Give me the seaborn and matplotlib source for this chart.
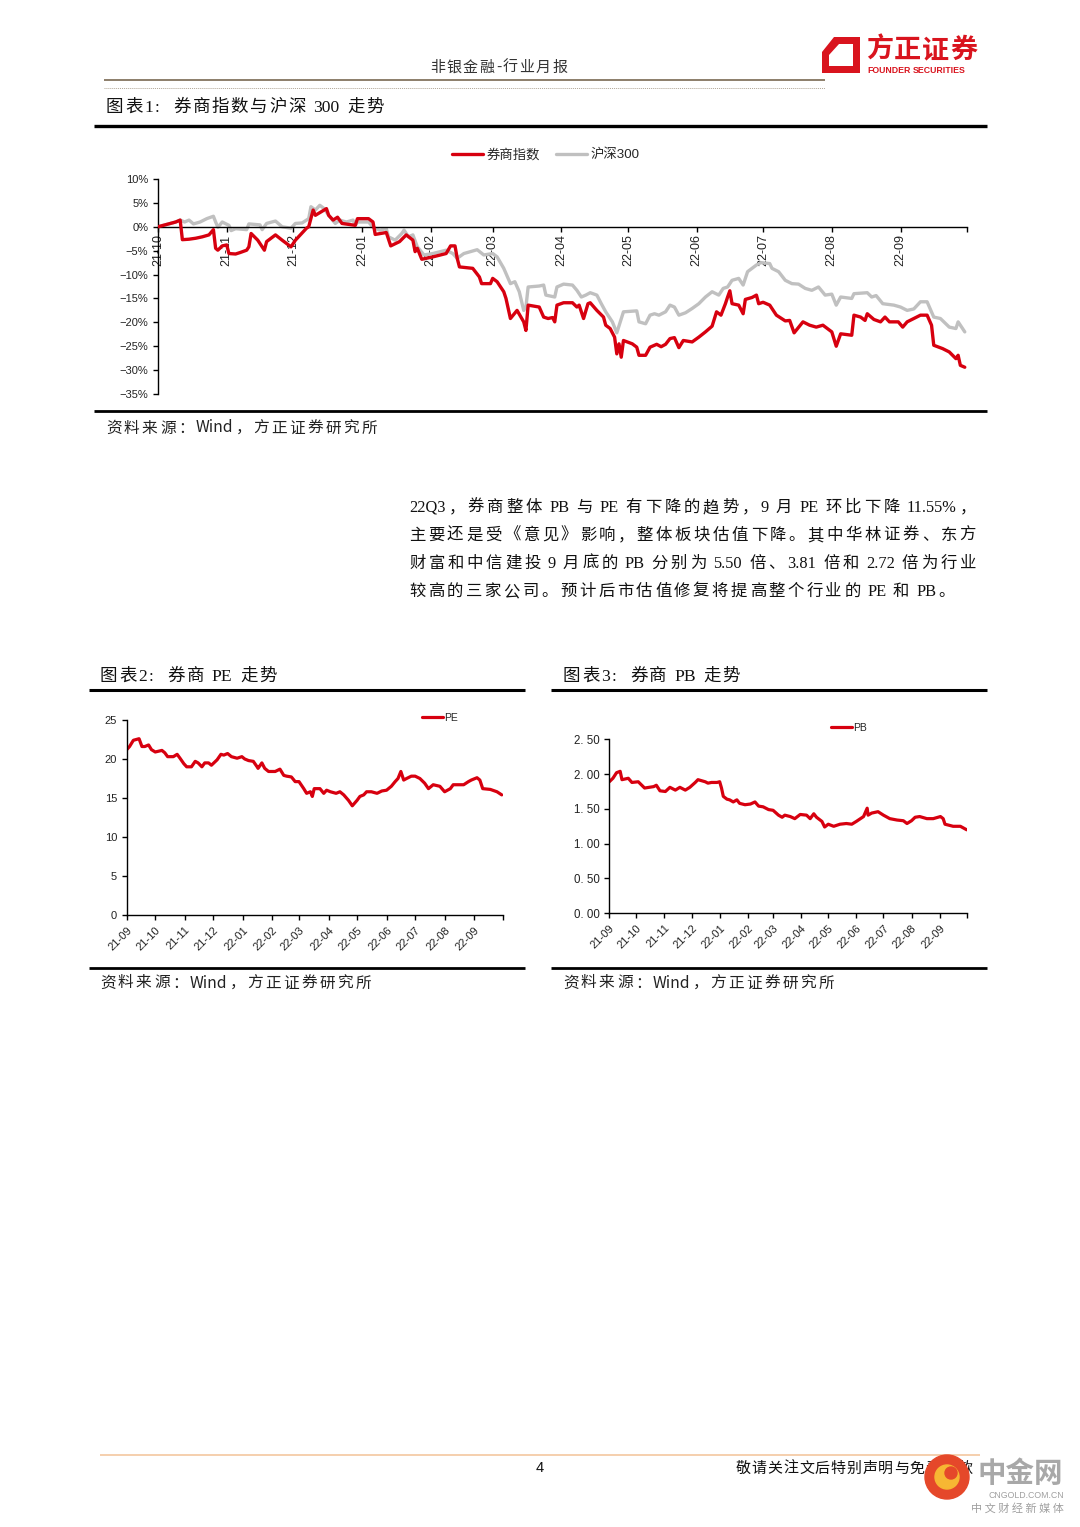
import re
import matplotlib
matplotlib.use("Agg")
import matplotlib.pyplot as plt
from matplotlib.patches import Polygon, Circle
from matplotlib.ticker import FuncFormatter
import numpy as np
import pandas as pd
import seaborn as sns

# ---------------- data ----------------
# Chart 1: days since 2021-10-01, cumulative change (%)
broker_day = [0, 4, 8, 10, 11, 14, 17, 20, 23, 25, 26, 27, 29, 31, 32, 35, 37, 40, 41, 42, 45, 48, 49, 53, 56, 60,
              62, 67, 68, 70, 71, 76, 77, 79, 81, 83, 89, 90, 95, 97, 98, 103, 105, 109, 112, 115, 116, 117, 119, 124,
              130, 132, 134, 135, 136, 142, 145, 146, 150, 151, 153, 156, 157, 159, 162, 165, 166, 167, 172, 174, 176,
              178, 179, 180, 183, 187, 189, 190, 192, 194, 195, 198, 201, 202, 204, 206, 207, 208, 209, 210, 214, 216,
              217, 220, 222, 225, 227, 229, 231, 233, 235, 237, 241, 244, 247, 250, 252, 254, 256, 257, 258, 259, 262,
              264, 265, 268, 270, 271, 273, 276, 279, 283, 285, 287, 291, 294, 297, 300, 304, 306, 308, 313, 314, 317,
              319, 320, 323, 326, 328, 330, 334, 336, 338, 341, 344, 347, 349, 350, 354, 357, 360, 361, 362, 364]
broker_val = [0.0, 0.5, 1.0, 1.4, -2.7, -2.6, -2.4, -2.1, -1.7, -0.6, -4.5, -4.9, -4.0, -3.8, -5.6, -5.7, -5.4, -4.9,
              -4.2, -1.4, -2.8, -4.9, -3.1, -1.7, -2.8, -4.2, -2.8, -0.3, 0.0, 3.5, 2.4, 3.8, 2.4, 1.4, 2.0, 0.7, 0.3,
              1.7, 1.7, 1.0, -1.6, -1.2, -4.0, -3.1, -1.7, -2.8, -5.2, -4.5, -6.8, -6.3, -5.6, -4.0, -4.0, -6.6, -8.4,
              -8.7, -10.5, -11.9, -11.9, -10.8, -11.5, -13.6, -15.0, -19.2, -17.5, -19.9, -21.7, -16.4, -16.8, -18.9,
              -19.2, -19.0, -19.9, -16.4, -15.9, -15.9, -16.8, -16.4, -19.2, -16.1, -15.9, -17.5, -18.9, -20.6, -21.3,
              -23.1, -26.6, -24.5, -27.3, -23.8, -24.5, -25.2, -26.9, -26.9, -25.2, -24.6, -25.1, -24.6, -23.4, -23.2,
              -25.3, -23.8, -24.1, -23.1, -22.0, -20.8, -17.8, -18.5, -16.1, -14.7, -13.4, -16.1, -16.4, -18.2, -15.2,
              -14.8, -14.3, -16.1, -15.8, -16.4, -18.5, -19.7, -19.6, -22.2, -19.9, -20.6, -21.0, -20.6, -22.0, -25.0,
              -22.4, -22.7, -18.5, -18.9, -19.6, -18.2, -19.4, -19.9, -18.9, -19.9, -19.9, -21.0, -19.9, -19.2, -18.5,
              -18.5, -20.6, -24.8, -25.5, -26.2, -27.6, -26.9, -29.0, -29.4]

hs300_day = [0, 8, 10, 12, 14, 16, 19, 22, 25, 26, 27, 29, 32, 33, 35, 40, 41, 46, 47, 49, 53, 56, 60, 62, 65, 68, 69,
             71, 73, 75, 77, 80, 82, 85, 88, 89, 90, 95, 97, 100, 103, 104, 107, 110, 111, 113, 115, 117, 120, 124,
             130, 133, 135, 138, 144, 147, 151, 153, 156, 159, 161, 163, 165, 166, 167, 172, 174, 175, 179, 180, 183,
             187, 189, 191, 193, 195, 198, 200, 202, 205, 207, 210, 216, 217, 220, 222, 224, 226, 229, 231, 233, 235,
             238, 241, 244, 247, 250, 253, 255, 257, 259, 262, 264, 266, 270, 272, 276, 277, 280, 283, 286, 289, 292,
             295, 298, 301, 304, 306, 308, 313, 314, 320, 322, 324, 327, 332, 335, 338, 341, 344, 347, 350, 353, 357,
             360, 361, 363, 364]
hs300_val = [0.0, 1.0, 1.4, 1.0, 1.4, 0.6, 1.0, 1.7, 2.2, 1.0, -0.1, 1.0, 0.3, -0.8, -0.4, -0.6, 0.6, 0.4, -0.6, 0.7,
             1.2, 0.0, -0.3, 0.7, 0.8, 1.7, 4.2, 3.5, 4.5, 3.8, 2.4, 0.7, 1.4, 1.0, 1.4, 0.3, 1.0, 1.0, -0.1, -0.7,
             -0.4, -2.1, -2.8, -1.4, -0.7, -2.1, -1.7, -4.2, -5.9, -5.6, -4.9, -5.6, -6.6, -5.6, -4.8, -5.9, -5.6,
             -6.3, -8.7, -11.9, -11.5, -13.6, -17.5, -16.8, -12.6, -12.4, -12.2, -14.3, -14.7, -12.6, -12.0, -12.2,
             -13.3, -14.7, -14.3, -13.8, -14.3, -16.1, -17.8, -19.9, -22.2, -17.8, -17.6, -19.9, -20.3, -18.5, -18.2,
             -18.5, -17.8, -16.4, -16.8, -18.5, -18.0, -17.1, -16.1, -14.7, -13.6, -14.3, -12.9, -12.6, -11.2, -10.8,
             -12.2, -9.4, -8.0, -7.5, -7.7, -8.7, -9.4, -11.2, -11.9, -12.0, -12.9, -13.3, -12.6, -14.3, -14.1, -16.4,
             -14.7, -15.0, -14.0, -13.8, -14.7, -14.4, -16.1, -16.4, -16.8, -17.5, -17.2, -15.7, -15.7, -18.9, -19.2,
             -21.0, -21.3, -19.9, -21.3, -22.0]

# Chart 2: days since 2021-09-01, PE
pe_day = [0, 3, 7, 10, 13, 16, 19, 23, 26, 30, 37, 40, 43, 49, 53, 56, 60, 63, 68, 72, 75, 79, 82, 86, 89, 95, 99, 102,
          106, 110, 116, 121, 124, 128, 133, 137, 138, 142, 145, 149, 156, 161, 165, 168, 173, 177, 181, 186, 189, 193,
          195, 197, 203, 207, 210, 214, 220, 224, 228, 233, 237, 242, 245, 249, 252, 257, 263, 268, 273, 278, 282,
          285, 288, 291, 294, 299, 303, 308, 313, 317, 322, 329, 334, 340, 343, 354, 359, 362, 368, 371, 374, 382,
          389, 394]
pe_val = [21.2, 21.6, 22.4, 22.5, 22.6, 21.6, 21.6, 21.8, 21.2, 20.9, 21.1, 20.8, 20.3, 20.3, 20.6, 20.1, 19.4, 19.0,
          19.0, 19.7, 19.5, 19.0, 19.5, 19.5, 19.2, 19.9, 20.6, 20.5, 20.7, 20.3, 20.1, 20.3, 20.0, 19.8, 19.7, 19.0,
          18.8, 19.5, 18.8, 18.4, 18.4, 18.7, 17.9, 17.8, 17.7, 17.1, 17.1, 16.2, 15.6, 15.8, 15.2, 16.2, 16.2, 15.6,
          16.0, 15.8, 15.6, 15.8, 15.4, 14.7, 14.0, 14.7, 15.2, 15.4, 15.8, 15.8, 15.6, 15.9, 16.0, 16.5, 17.1, 17.5,
          18.4, 17.3, 17.5, 17.8, 17.8, 17.5, 16.9, 16.2, 16.7, 16.5, 15.8, 16.2, 16.7, 16.7, 17.1, 17.3, 17.6, 17.3,
          16.2, 16.1, 15.8, 15.4]

# Chart 3: days since 2021-09-01, PB
pb_day = [0, 4, 8, 12, 14, 21, 25, 32, 39, 49, 52, 56, 62, 67, 73, 78, 84, 89, 95, 98, 106, 109, 113, 119, 122, 124,
          126, 130, 133, 137, 141, 144, 150, 156, 161, 165, 170, 176, 181, 187, 191, 194, 200, 205, 211, 218, 222, 226,
          229, 235, 238, 242, 248, 255, 262, 268, 273, 281, 285, 286, 290, 297, 303, 310, 318, 325, 329, 334, 338,
          343, 351, 358, 366, 369, 371, 380, 388, 395]
pb_val = [1.89, 1.94, 2.02, 2.04, 1.92, 1.94, 1.88, 1.89, 1.80, 1.82, 1.84, 1.76, 1.75, 1.81, 1.77, 1.81, 1.77, 1.81,
          1.88, 1.92, 1.89, 1.87, 1.88, 1.88, 1.89, 1.80, 1.68, 1.64, 1.63, 1.60, 1.63, 1.58, 1.56, 1.57, 1.60, 1.54,
          1.53, 1.49, 1.48, 1.41, 1.38, 1.41, 1.39, 1.36, 1.42, 1.41, 1.36, 1.43, 1.38, 1.32, 1.24, 1.28, 1.25, 1.28,
          1.29, 1.28, 1.32, 1.39, 1.51, 1.41, 1.44, 1.46, 1.41, 1.36, 1.34, 1.33, 1.29, 1.33, 1.38, 1.39, 1.36, 1.36,
          1.39, 1.36, 1.28, 1.25, 1.25, 1.20]

c1_yticks = [10, 5, 0, -5, -10, -15, -20, -25, -30, -35]
pe_yticks = [0, 5, 10, 15, 20, 25]
pb_yticks = [0.0, 0.5, 1.0, 1.5, 2.0, 2.5]
pb_ylabels = ["0. 00", "0. 50", "1. 00", "1. 50", "2. 00", "2. 50"]

# ---------------- style ----------------
sns.set_theme(style="white")
plt.rcParams["font.family"] = ["Liberation Sans", "Noto Sans CJK SC", "DejaVu Sans"]
plt.rcParams["axes.unicode_minus"] = True

RED = "#D7000F"
GRAY = "#C0C0C0"
W, H = 1080, 1527
CJK = ["Noto Sans CJK SC", "DejaVu Sans"]
SERIF = ["Liberation Serif", "Noto Sans CJK SC", "DejaVu Sans"]
SANS = ["Liberation Sans", "Noto Sans CJK SC", "DejaVu Sans"]

fig = plt.figure(figsize=(W / 100, H / 100), dpi=100)
fig.patch.set_facecolor("white")

bg = fig.add_axes([0, 0, 1, 1])
bg.set_xlim(0, W)
bg.set_ylim(H, 0)
bg.axis("off")


def rect(l, t, r, b):
    return [l / W, 1 - b / H, (r - l) / W, (b - t) / H]


def style_axes(ax):
    ax.set_facecolor("none")
    for s in ["top", "right"]:
        ax.spines[s].set_visible(False)
    for s in ["left", "bottom"]:
        ax.spines[s].set_color("black")
        ax.spines[s].set_linewidth(1.0)
    ax.tick_params(axis="both", which="both", direction="out", length=3.5, width=1.0,
                   color="black", labelcolor="#222222", left=True, bottom=True)
    ax.grid(False)
    ax.set_xlabel("")
    ax.set_ylabel("")


# ---------------- chart 1 ----------------
start1 = pd.Timestamp("2021-10-01")
ax1 = fig.add_axes(rect(158, 179, 967, 394))
b_dates = start1 + pd.to_timedelta(broker_day, unit="D")
h_dates = start1 + pd.to_timedelta(hs300_day, unit="D")
sns.lineplot(x=b_dates, y=broker_val, ax=ax1, color=RED, linewidth=2.4, label="券商指数", zorder=3)
sns.lineplot(x=h_dates, y=hs300_val, ax=ax1, color=GRAY, linewidth=2.4, label="沪深300", zorder=2)
style_axes(ax1)
ax1.set_ylim(-35, 10)
ax1.set_xlim(start1, pd.Timestamp("2022-10-01"))
ax1.spines["bottom"].set_position(("data", 0))
ax1.set_yticks(c1_yticks)
ax1.yaxis.set_major_formatter(FuncFormatter(lambda v, p: f"{v:.0f}%".replace("-", "\u2212")))
months1 = pd.date_range("2021-10-01", "2022-10-01", freq="MS")
ax1.set_xticks(months1)
ax1.set_xticklabels([m.strftime("%y-%m") if i < len(months1) - 1 else "" for i, m in enumerate(months1)],
                    rotation=90, fontsize=9, family=SANS)
for lab in ax1.get_yticklabels():
    lab.set_fontsize(8)
ax1.tick_params(axis="x", pad=2)
h, l = ax1.get_legend_handles_labels()
ax1.legend_.remove()
fig.legend(h, l, loc="center", bbox_to_anchor=(546 / W, 1 - 155 / H), ncol=2, frameon=False,
           handlelength=2.3, handletextpad=0.3, columnspacing=1.2, prop={"family": SANS, "size": 9.6})

# ---------------- chart 2 ----------------
start2 = pd.Timestamp("2021-09-01")
ax2 = fig.add_axes(rect(126.7, 720, 502.7, 915))
sns.lineplot(x=start2 + pd.to_timedelta(pe_day, unit="D"), y=pe_val, ax=ax2, color=RED, linewidth=2.3, label="PE")
style_axes(ax2)
ax2.set_ylim(0, 25)
ax2.set_yticks(pe_yticks)
ax2.set_xlim(start2, pd.Timestamp("2022-10-01"))
months2 = pd.date_range("2021-09-01", "2022-10-01", freq="MS")
ax2.set_xticks(months2)
ax2.set_xticklabels([m.strftime("%y-%m") if i < len(months2) - 1 else "" for i, m in enumerate(months2)],
                    rotation=45, ha="right", rotation_mode="anchor", fontsize=8, family=SANS)
for lab in ax2.get_yticklabels():
    lab.set_fontsize(8)
h, l = ax2.get_legend_handles_labels()
ax2.legend_.remove()
fig.legend(h, l, loc="center", bbox_to_anchor=(440 / W, 1 - 718 / H), frameon=False,
           handlelength=2.0, handletextpad=0.1, prop={"family": SANS, "size": 7.5})

# ---------------- chart 3 ----------------
ax3 = fig.add_axes(rect(609.3, 739.3, 966.7, 913.3))
sns.lineplot(x=start2 + pd.to_timedelta(pb_day, unit="D"), y=pb_val, ax=ax3, color=RED, linewidth=2.3, label="PB")
style_axes(ax3)
ax3.set_ylim(0, 2.5)
ax3.set_yticks(pb_yticks)
ax3.set_yticklabels(pb_ylabels, fontsize=8.3, family=SANS)
ax3.set_xlim(start2, pd.Timestamp("2022-10-01"))
ax3.set_xticks(months2)
ax3.set_xticklabels([m.strftime("%y-%m") if i < len(months2) - 1 else "" for i, m in enumerate(months2)],
                    rotation=45, ha="right", rotation_mode="anchor", fontsize=8, family=SANS)
h, l = ax3.get_legend_handles_labels()
ax3.legend_.remove()
fig.legend(h, l, loc="center", bbox_to_anchor=(849 / W, 1 - 728 / H), frameon=False,
           handlelength=2.0, handletextpad=0.1, prop={"family": SANS, "size": 7.5})

# ---------------- page elements ----------------
renderer = fig.canvas.get_renderer()


def hline(x0, x1, y, lw, color, ls="-"):
    bg.plot([x0, x1], [y, y], color=color, lw=lw, ls=ls, solid_capstyle="butt")


def put_line(x0, x1, y, line, fs, family=SERIF, color="#111111", justify=True, style="normal", weight="normal",
             zorder=3, space_em=0.25):
    """Lay a line out token by token (pixel coords on the page axes); spread leftover space evenly."""
    parts = re.findall(r"[A-Za-z0-9.%]+| +|.", line)
    objs, widths, spaces = [], [], []
    pending_space = 0.0
    for tk in parts:
        if tk.strip() == "":
            pending_space += fs * 100 / 72 * space_em * len(tk)
            continue
        t = bg.text(0, y, tk, fontsize=fs, family=family, color=color, va="center", ha="left",
                    style=style, weight=weight, zorder=zorder)
        widths.append(t.get_window_extent(renderer).width)
        objs.append(t)
        spaces.append(pending_space)
        pending_space = 0.0
    base = sum(widths) + sum(spaces[1:])
    n = max(len(objs) - 1, 1)
    gap = max((x1 - x0 - base) / n, 0.0) if justify else 0.0
    x = x0
    for i, (t, w) in enumerate(zip(objs, widths)):
        if i > 0:
            x += spaces[i] + gap
        t.set_position((x, y))
        x += w


# header
put_line(430, 567, 68, "非银金融-行业月报", 10.8, family=CJK, color="#333333")
hline(104, 825, 79.5, 1.4, "#8C7E6A")
hline(104, 825, 88, 0.7, "#B0A595", ls=(0, (1, 1)))
bg.add_patch(Polygon([(834, 37), (860, 37), (860, 73), (822, 73), (822, 52)], closed=True, color="#D9141E", lw=0))
bg.add_patch(Polygon([(839, 44), (853, 44), (853, 66), (829, 66), (829, 55)], closed=True, color="white", lw=0))
put_line(866, 977, 50, "方正证券", 19.5, family=CJK, color="#D9141E", weight="bold")
put_line(867, 977, 70.5, "FOUNDER SECURITIES", 6.3, family=SANS, color="#D9141E", weight="bold", justify=False)

# chart 1 frame
put_line(106, 384, 108, "图表1:  券商指数与沪深 300 走势", 12.6, family=SERIF, space_em=0.35)
hline(94, 987, 125.5, 2.4, "black")
hline(94, 987, 411, 2.0, "black")
put_line(106, 377, 428, "资料来源：Wind，方正证券研究所", 11.3, family=CJK, color="#222222", style="italic")

# paragraph (justified)
para = ["22Q3，券商整体 PB 与 PE 有下降的趋势，9 月 PE 环比下降 11.55%，",
        "主要还是受《意见》影响，整体板块估值下降。其中华林证券、东方",
        "财富和中信建投 9 月底的 PB 分别为 5.50 倍、3.81 倍和 2.72 倍为行业",
        "较高的三家公司。预计后市估值修复将提高整个行业的 PE 和 PB。"]
para_right = [976, 976, 976, 955]
for i, ln in enumerate(para):
    put_line(409, para_right[i], 508 + 28 * i, ln, 11.8)

# charts 2/3 frames
put_line(100, 277, 677, "图表2:  券商 PE 走势", 12.6, family=SERIF, space_em=0.35)
put_line(563, 740, 677, "图表3:  券商 PB 走势", 12.6, family=SERIF, space_em=0.35)
hline(89, 525, 689.5, 2.2, "black")
hline(551, 987, 689.5, 2.2, "black")
hline(89, 525, 967.5, 2.0, "black")
hline(551, 987, 967.5, 2.0, "black")
put_line(100, 371, 983, "资料来源：Wind，方正证券研究所", 11.3, family=CJK, color="#222222", style="italic")
put_line(563, 834, 983, "资料来源：Wind，方正证券研究所", 11.3, family=CJK, color="#222222", style="italic")

# footer
hline(100, 980, 1454.5, 1.2, "#F3C7A0")
bg.text(540, 1468, "4", fontsize=10.5, family=SANS, color="#111111", ha="center", va="center")
put_line(736, 972, 1469, "敬请关注文后特别声明与免责条款", 10.8, family=CJK, color="#111111", zorder=1)
bg.add_patch(Circle((947, 1477), 22, color="#E5482A", zorder=5))
bg.add_patch(Circle((947, 1477), 12, color="#F7B733", zorder=6))
bg.add_patch(Circle((951, 1473), 6, color="#E5482A", zorder=7))
bg.text(977, 1474, "中金网", fontsize=20.5, family=CJK, weight="bold", color="#A8A8A8", va="center", zorder=8)
bg.text(1064, 1496, "CNGOLD.COM.CN", fontsize=6.3, family=SANS, color="#A0A0A0", ha="right", va="center", zorder=8)
bg.text(1064, 1508, "中 文 财 经 新 媒 体", fontsize=8, family=CJK, color="#A0A0A0", ha="right", va="center",
        zorder=8)

fig.savefig("out.png", dpi=100, facecolor="white")
